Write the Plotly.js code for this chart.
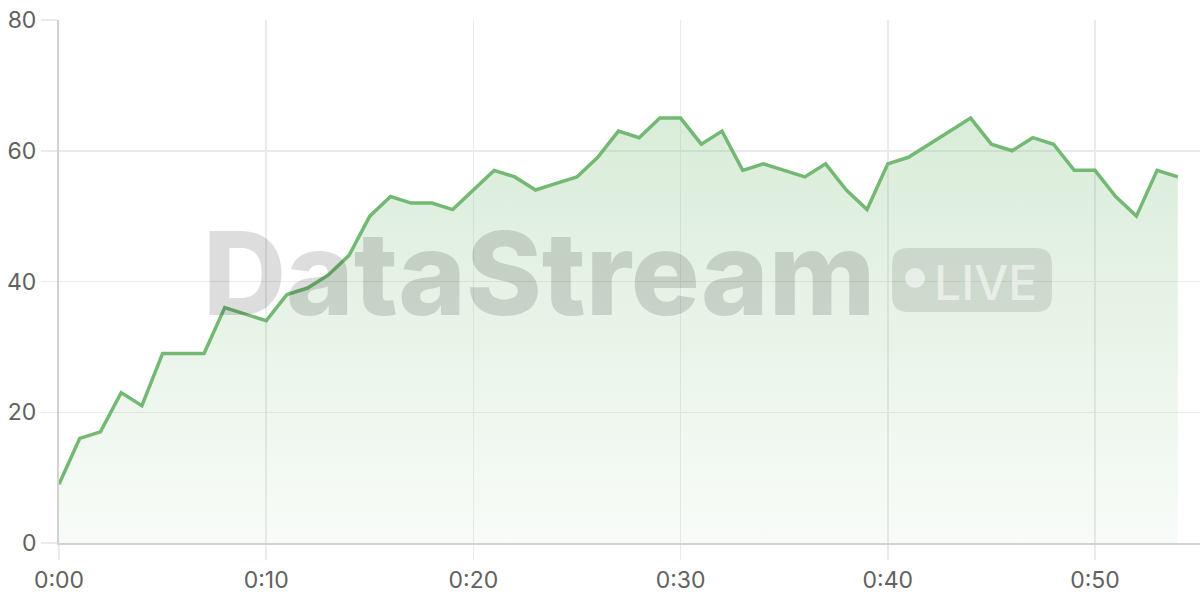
<!DOCTYPE html>
<html>
<head>
<meta charset="utf-8">
<script src="https://cdn.plot.ly/plotly-3.0.1.min.js"></script>
<style>
  html, body { margin: 0; padding: 0; background: #fff; }
  #graphDiv { width: 1200px; height: 600px; }
</style>
</head>
<body>
<div id="graphDiv"></div>
<script>
// minutes since start, one reading per minute
var minutes = [];
for (var m = 0; m <= 54; m++) minutes.push(m);

var readings = [
  9, 16, 17, 23, 21, 29, 29, 29, 36, 35,
  34, 38, 39, 41, 44, 50, 53, 52, 52, 51,
  54, 57, 56, 54, 55, 56, 59, 63, 62, 65,
  65, 61, 63, 57, 58, 57, 56, 58, 54, 51,
  58, 59, 61, 63, 65, 61, 60, 62, 61, 57,
  57, 53, 50, 57, 56
];

var tickMinutes = [0, 10, 20, 30, 40, 50];
var tickLabels = ['0:00', '0:10', '0:20', '0:30', '0:40', '0:50'];
var yTicks = [0, 20, 40, 60, 80];

var lineColor = 'rgb(115,185,115)';
var tickFont = {family: 'Inter, "Open Sans", sans-serif', size: 23, color: '#616161'};

var trace1 = {
  type: 'scatter',
  mode: 'lines',
  x: minutes,
  y: readings,
  line: {color: lineColor, width: 3.5},
  fill: 'tozeroy',
  fillgradient: {
    type: 'vertical',
    start: 0,
    stop: 80,
    colorscale: [[0, 'rgba(115,185,115,0.05)'], [1, 'rgba(115,185,115,0.32)']]
  },
  hoverinfo: 'skip'
};

var layout = {
  width: 1200,
  height: 600,
  margin: {l: 59, r: 0, t: 20, b: 57},
  paper_bgcolor: '#fff',
  plot_bgcolor: '#fff',
  showlegend: false,
  xaxis: {
    range: [0, 55.07],
    tickvals: tickMinutes,
    ticktext: tickLabels,
    ticks: 'outside',
    ticklen: 15,
    tickwidth: 1.5,
    tickcolor: '#ebebeb',
    showgrid: true,
    gridcolor: '#ebebeb',
    gridwidth: 1.5,
    showline: true,
    linecolor: '#d2d2d2',
    linewidth: 2,
    zeroline: false,
    tickfont: tickFont,
    fixedrange: true
  },
  yaxis: {
    range: [0, 80],
    tickvals: yTicks,
    ticks: 'outside',
    ticklen: 16,
    tickwidth: 1.5,
    tickcolor: '#ebebeb',
    showgrid: true,
    gridcolor: '#ebebeb',
    gridwidth: 1.5,
    showline: true,
    linecolor: '#d2d2d2',
    linewidth: 2,
    zeroline: false,
    tickfont: tickFont,
    fixedrange: true
  },
  // watermark
  annotations: [
    {
      xref: 'paper', yref: 'paper', x: 0.4207, y: 0.515,
      xanchor: 'center', yanchor: 'middle',
      text: 'DataStream', showarrow: false,
      font: {family: 'Inter, sans-serif', size: 115, weight: 800, color: 'rgba(0,0,0,0.135)'}
    },
    {
      xref: 'paper', yref: 'paper', x: 0.812, y: 0.498,
      xanchor: 'center', yanchor: 'middle',
      text: 'LIVE', showarrow: false,
      font: {family: 'Inter, sans-serif', size: 48, weight: 500, color: 'rgba(255,255,255,0.55)'}
    }
  ],
  shapes: [
    {
      type: 'path', xref: 'paper', yref: 'paper',
      xsizemode: 'pixel', ysizemode: 'pixel',
      xanchor: 0.8002, yanchor: 0.5029,
      path: 'M -64,-32 L 64,-32 Q 80,-32 80,-16 L 80,16 Q 80,32 64,32 L -64,32 Q -80,32 -80,16 L -80,-16 Q -80,-32 -64,-32 Z',
      fillcolor: 'rgba(0,0,0,0.1)', line: {width: 0}
    },
    {
      type: 'circle', xref: 'paper', yref: 'paper',
      xsizemode: 'pixel', ysizemode: 'pixel',
      xanchor: 0.8002, yanchor: 0.5029,
      x0: -67, x1: -47, y0: -8, y1: 12,
      fillcolor: 'rgba(255,255,255,0.55)', line: {width: 0}
    }
  ]
};

Plotly.newPlot('graphDiv', [trace1], layout, {displayModeBar: false, staticPlot: true});
</script>
</body>
</html>
